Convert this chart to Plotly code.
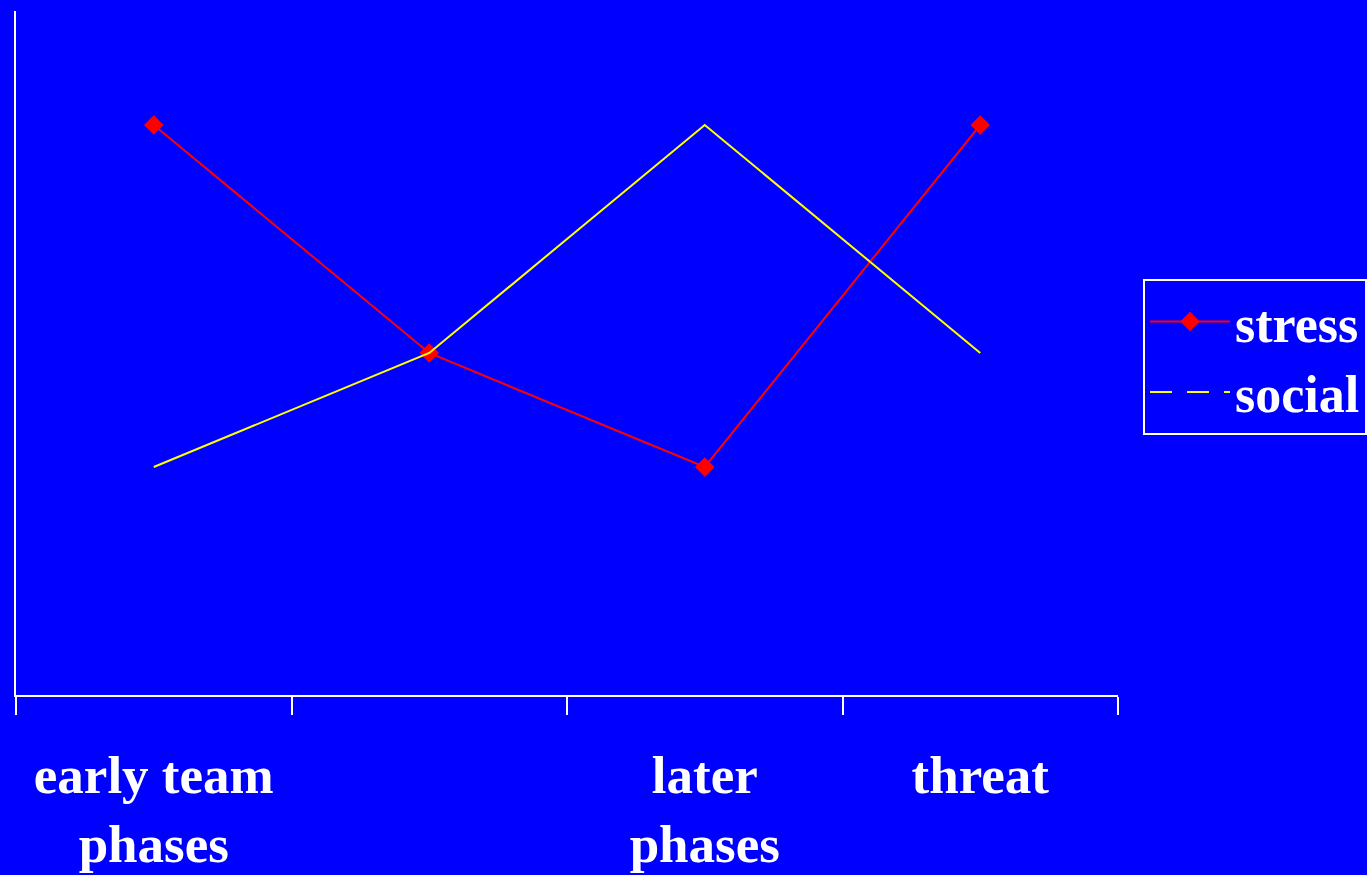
import plotly.graph_objects as go

# Phases along the horizontal axis (second one carries no label)
phase_labels = ["early team<br>phases", "", "later<br>phases", "threat"]
phase_pos = [0, 1, 2, 3]

# Series values
stress = [5, 3, 2, 5]
social = [2, 3, 5, 3]

BG = "#0000FF"
FONT = "Liberation Serif"


def bold(s):
    return "<br>".join(f"<b>{part}</b>" if part else "" for part in s.split("<br>"))


fig = go.Figure()

fig.add_trace(go.Scatter(
    x=phase_pos, y=stress, name=bold("stress"), mode="lines+markers",
    line=dict(color="#FF0000", width=2),
    marker=dict(symbol="diamond", size=15, color="#FF0000"),
))
fig.add_trace(go.Scatter(
    x=phase_pos, y=social, name=bold("social"), mode="lines",
    line=dict(color="#FFFF00", width=2),
    showlegend=False,
))
# legend key for the social series is drawn dashed
fig.add_trace(go.Scatter(
    x=[None], y=[None], name=bold("social"), mode="lines",
    line=dict(color="#FFFF00", width=2, dash="22px,15px"),
))

fig.update_layout(
    width=1367, height=875,
    paper_bgcolor=BG, plot_bgcolor=BG,
    margin=dict(l=16, r=249, t=11, b=180, autoexpand=False),
    font=dict(family=FONT, color="white", size=52),
    showlegend=True,
    legend=dict(
        x=1.0227, y=0.608, xanchor="left", yanchor="top",
        bgcolor=BG, bordercolor="white", borderwidth=2,
        font=dict(family=FONT, size=52, color="white"),
        tracegroupgap=0, itemwidth=80,
    ),
    xaxis=dict(
        range=[-0.5, 3.5], showgrid=False, zeroline=False, automargin=False,
        showline=True, linecolor="white", linewidth=2,
        tickvals=phase_pos, ticktext=[bold(t) for t in phase_labels],
        ticks="", ticklabelstandoff=32,
        tickfont=dict(family=FONT, size=53, color="white"),
        minor=dict(tickvals=[-0.5, 0.5, 1.5, 2.5, 3.5], ticks="outside",
                   ticklen=18, tickcolor="white", tickwidth=2, showgrid=False),
    ),
    yaxis=dict(
        range=[0, 6], showgrid=False, zeroline=False, automargin=False,
        showline=True, linecolor="white", linewidth=2,
        showticklabels=False, ticks="",
    ),
)

fig.write_html("out.html")
